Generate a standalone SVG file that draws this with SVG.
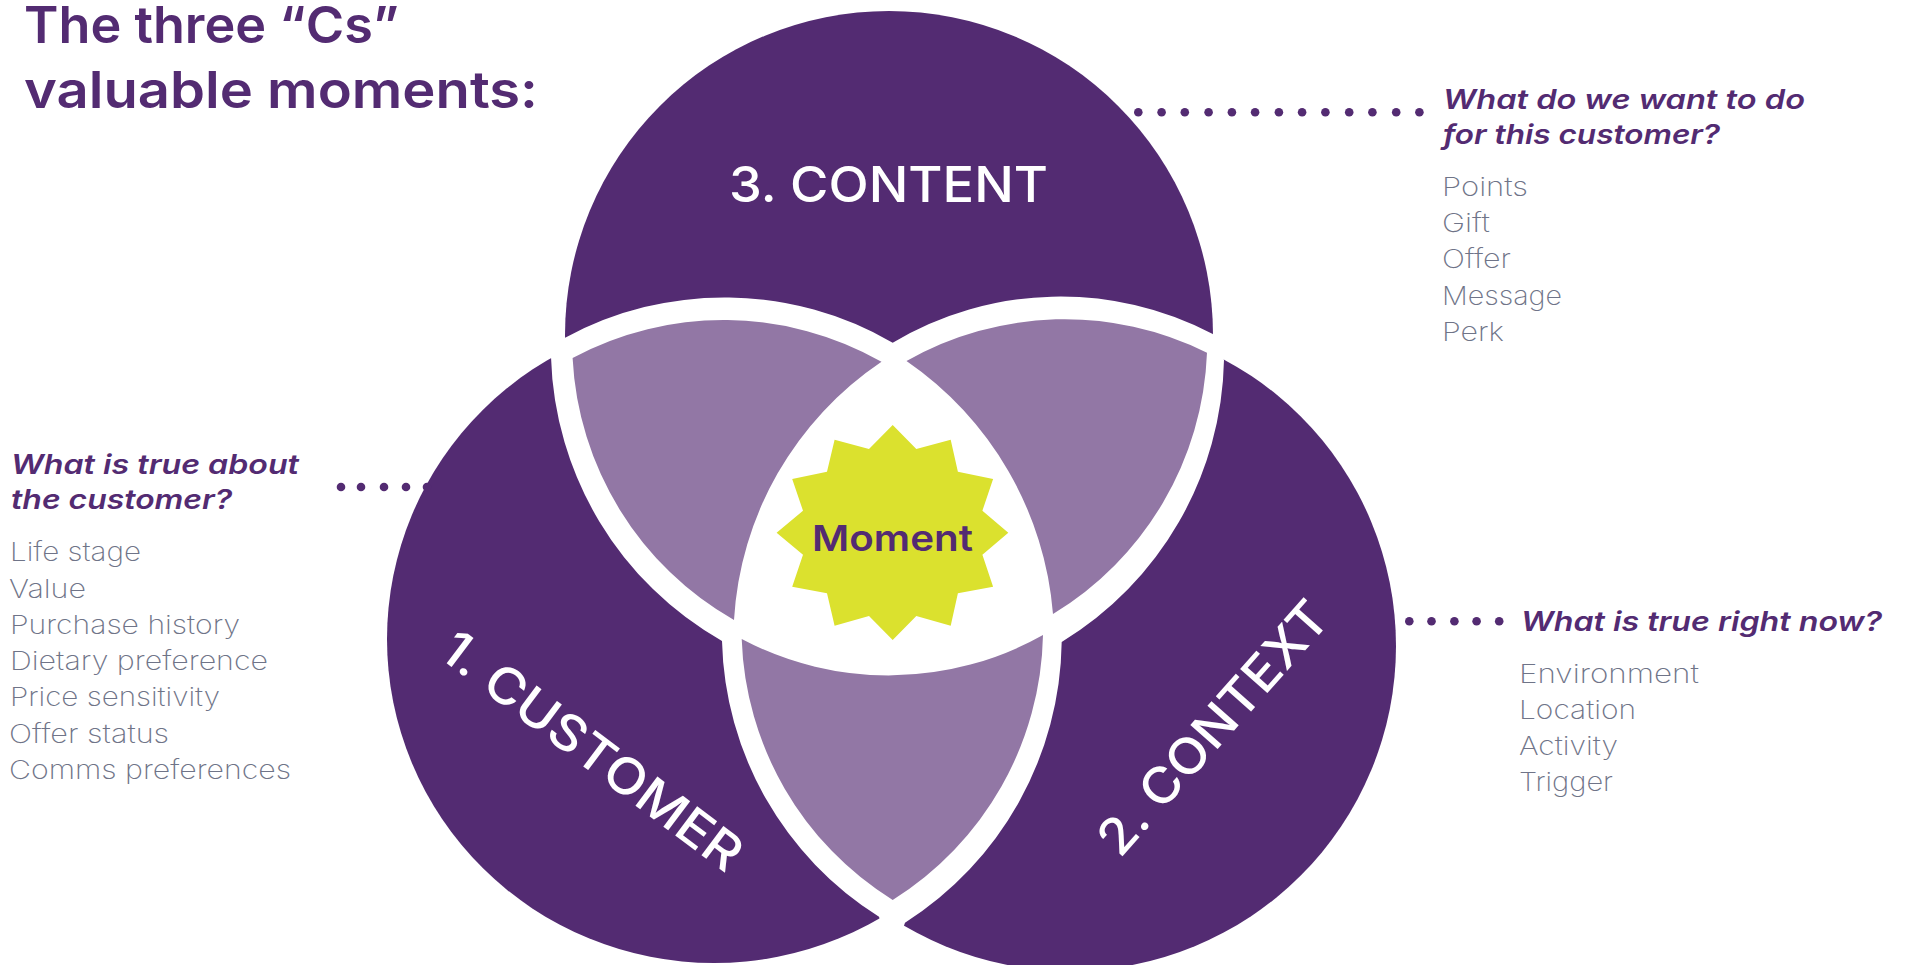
<svg xmlns="http://www.w3.org/2000/svg" width="1908" height="965" viewBox="0 0 1908 965">
<style>
text{font-family:"Inter","Noto Sans","Liberation Sans",sans-serif}
.purple{fill:#532b72}
.light{fill:#9277a5}
.title{font-size:51px;font-weight:570;fill:#532b72}
.q{font-size:27px;font-weight:600;font-style:italic;fill:#532b72}
.li{font-size:26px;font-weight:200;fill:#6f7488}
.big{font-size:50px;font-weight:540;fill:#fff}
.dot{fill:#532b72}
</style>
<rect width="1908" height="965" fill="#fff"/>
<g id="title">
<text class="title" x="24" y="43" textLength="375" lengthAdjust="spacingAndGlyphs">The three “Cs”</text>
<text class="title" x="24" y="108" textLength="514" lengthAdjust="spacingAndGlyphs">valuable moments:</text>
</g>
<g id="circle-customer"><ellipse class="purple" cx="714" cy="639" rx="327" ry="324"/></g>
<g id="circle-context"><ellipse class="purple" cx="1070" cy="646" rx="326" ry="325"/></g>
<g id="circle-content"><circle class="purple" cx="889" cy="335" r="324"/></g>
<g id="overlap">
<path fill="#fff" d="M892.7 342.7A328 328 0 0 1 1212.8 334L1224 360A338 338 0 0 1 1061.7 642A338 338 0 0 1 905 922.7L892 960L879 916.7A335 335 0 0 1 722 641A338 338 0 0 1 551 357L564.6 338A335 335 0 0 1 892.7 342.7Z"/>
<path class="light" d="M572.6 358A320 320 0 0 1 881.5 361.7A335 335 0 0 0 734 620A320 320 0 0 1 572.6 358Z"/>
<path class="light" d="M906.5 361A320 320 0 0 1 1207 352.7A320 320 0 0 1 1053 614A340 340 0 0 0 906.5 361Z"/>
<path class="light" d="M741.7 639A315 315 0 0 0 1043 635A320 320 0 0 1 892.7 900A320 320 0 0 1 741.7 639Z"/>
</g>
<g id="moment">
<polygon fill="#dbe12e" points="892.7,425 916.3,449 950.7,439.7 957.9,471.7 993.1,479 982.4,510.7 1008.3,532.7 982.4,554.7 993.1,586.7 957.9,593.3 950.7,625.7 916.3,616 892.7,640 869,616 834.6,625.7 827,593.3 792.2,586.7 803,554.7 776.6,532.7 803,510.7 792.2,479 827,471.7 834.6,439.7 869,449"/>
<text x="812" y="550.5" font-size="36" font-weight="600" fill="#532b72" textLength="161" lengthAdjust="spacingAndGlyphs">Moment</text>
</g>
<text id="label-content" class="big" x="729" y="202" textLength="319" lengthAdjust="spacingAndGlyphs">3. CONTENT</text>
<text id="label-customer" class="big" transform="translate(437 656) rotate(37)" textLength="362" lengthAdjust="spacingAndGlyphs">1. CUSTOMER</text>
<text id="label-context" class="big" transform="translate(1120 859) rotate(-48.4)" textLength="320" lengthAdjust="spacingAndGlyphs">2. CONTEXT</text>
<g id="connectors">
<g id="dots-left">
<circle class="dot" cx="341" cy="487" r="4.3"/><circle class="dot" cx="361" cy="487" r="4.3"/><circle class="dot" cx="384" cy="487" r="4.3"/><circle class="dot" cx="406" cy="487" r="4.3"/><circle class="dot" cx="427" cy="487" r="4.3"/>
</g>
<g id="dots-top">
<circle class="dot" cx="1138.3" cy="112.3" r="4.3"/><circle class="dot" cx="1161.6" cy="112.3" r="4.3"/><circle class="dot" cx="1184.8" cy="112.3" r="4.3"/><circle class="dot" cx="1208.6" cy="112.3" r="4.3"/><circle class="dot" cx="1231.9" cy="112.3" r="4.3"/><circle class="dot" cx="1255.1" cy="112.3" r="4.3"/><circle class="dot" cx="1278.9" cy="112.3" r="4.3"/><circle class="dot" cx="1302.1" cy="112.3" r="4.3"/><circle class="dot" cx="1325.4" cy="112.3" r="4.3"/><circle class="dot" cx="1349.2" cy="112.3" r="4.3"/><circle class="dot" cx="1372.4" cy="112.3" r="4.3"/><circle class="dot" cx="1396.2" cy="112.3" r="4.3"/><circle class="dot" cx="1419.4" cy="112.3" r="4.3"/>
</g>
<g id="dots-right">
<circle class="dot" cx="1409.3" cy="621.3" r="4.3"/><circle class="dot" cx="1431.5" cy="621.3" r="4.3"/><circle class="dot" cx="1454.4" cy="621.3" r="4.3"/><circle class="dot" cx="1476.6" cy="621.3" r="4.3"/><circle class="dot" cx="1499.2" cy="621.3" r="4.3"/>
</g>
</g>
<g id="panel-customer">
<text class="q" x="11" y="474" textLength="288" lengthAdjust="spacingAndGlyphs">What is true about</text>
<text class="q" x="11" y="509" textLength="221" lengthAdjust="spacingAndGlyphs">the customer?</text>
<text class="li" x="10" y="561" textLength="131" lengthAdjust="spacingAndGlyphs">Life stage</text>
<text class="li" x="9" y="598" textLength="77" lengthAdjust="spacingAndGlyphs">Value</text>
<text class="li" x="10" y="634" textLength="230" lengthAdjust="spacingAndGlyphs">Purchase history</text>
<text class="li" x="10" y="670" textLength="258" lengthAdjust="spacingAndGlyphs">Dietary preference</text>
<text class="li" x="10" y="706" textLength="210" lengthAdjust="spacingAndGlyphs">Price sensitivity</text>
<text class="li" x="9" y="743" textLength="160" lengthAdjust="spacingAndGlyphs">Offer status</text>
<text class="li" x="9" y="779" textLength="282" lengthAdjust="spacingAndGlyphs">Comms preferences</text>
</g>
<g id="panel-content">
<text class="q" x="1443" y="108.5" textLength="362" lengthAdjust="spacingAndGlyphs">What do we want to do</text>
<text class="q" x="1443" y="144" textLength="277" lengthAdjust="spacingAndGlyphs">for this customer?</text>
<text class="li" x="1442" y="196" textLength="86" lengthAdjust="spacingAndGlyphs">Points</text>
<text class="li" x="1442" y="232" textLength="48" lengthAdjust="spacingAndGlyphs">Gift</text>
<text class="li" x="1442" y="268" textLength="69" lengthAdjust="spacingAndGlyphs">Offer</text>
<text class="li" x="1442" y="305" textLength="120" lengthAdjust="spacingAndGlyphs">Message</text>
<text class="li" x="1442" y="341" textLength="62" lengthAdjust="spacingAndGlyphs">Perk</text>
</g>
<g id="panel-context">
<text class="q" x="1521" y="631" textLength="361" lengthAdjust="spacingAndGlyphs">What is true right now?</text>
<text class="li" x="1519" y="683" textLength="180" lengthAdjust="spacingAndGlyphs">Environment</text>
<text class="li" x="1519" y="719" textLength="117" lengthAdjust="spacingAndGlyphs">Location</text>
<text class="li" x="1519" y="755" textLength="99" lengthAdjust="spacingAndGlyphs">Activity</text>
<text class="li" x="1519" y="791" textLength="94" lengthAdjust="spacingAndGlyphs">Trigger</text>
</g>
</svg>
